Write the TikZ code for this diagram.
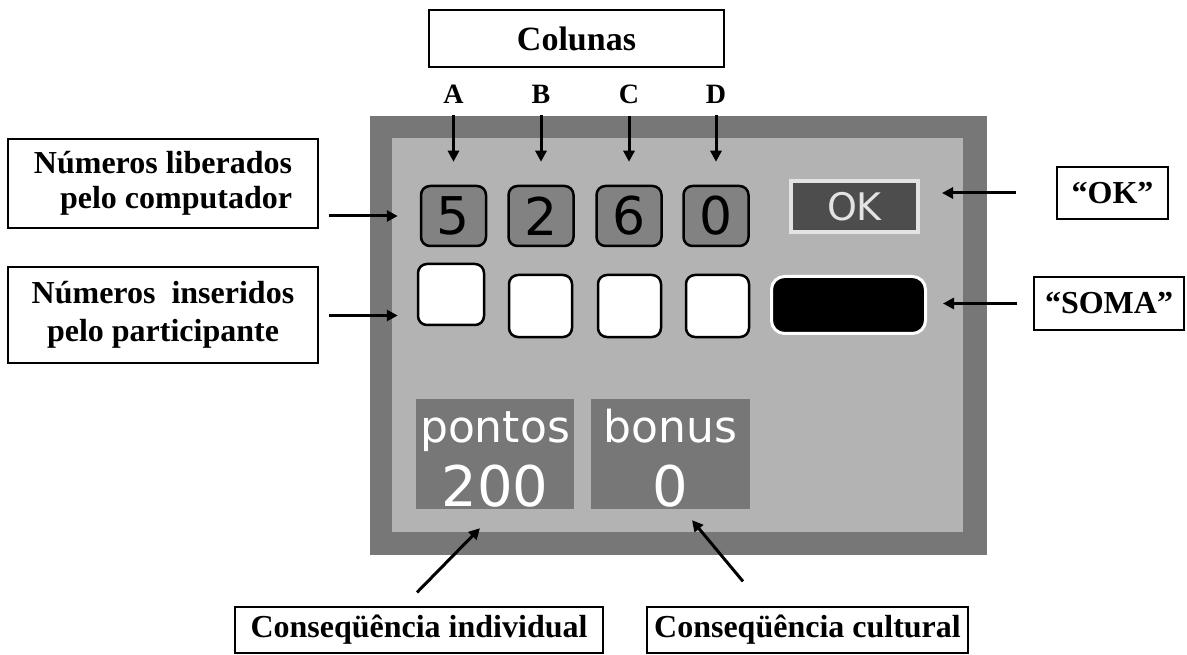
\documentclass[tikz,border=0pt]{standalone}
\usepackage{fontspec}
\setmainfont{Liberation Serif}
\newfontfamily\screenfont{DejaVu Sans}
\usepackage{tikz}
\usetikzlibrary{arrows.meta}
\definecolor{myframecolor}{HTML}{777777}
\definecolor{myscreencolor}{HTML}{B3B3B3}
\definecolor{mydigitcolor}{HTML}{828282}
\definecolor{myokcolor}{HTML}{4D4D4D}
\definecolor{myokedge}{HTML}{E3E3E3}

\begin{document}
\begin{tikzpicture}[x=1pt, y=-1pt,
  labelbox/.style={draw, line width=1.2pt, fill=white, rectangle, font=\bfseries\fontsize{32pt}{35pt}\selectfont},
  colname/.style={inner sep=0pt, font=\bfseries\fontsize{28pt}{28pt}\selectfont},
  digitbox/.style={draw, line width=2.5pt, fill=mydigitcolor, rounded corners=9pt, minimum width=65pt, minimum height=60pt, font=\screenfont\fontsize{52pt}{52pt}\selectfont},
  blankbox/.style={draw, line width=2.5pt, fill=white, rounded corners=9pt},
  scorebox/.style={fill=myframecolor, rectangle, minimum height=110pt},
  scoretext/.style={text=white, anchor=base, inner sep=0pt},
  arr/.style={-{Triangle[length=11pt,width=11pt]}, line width=3pt}]%
\useasboundingbox (0,0) rectangle (1187,655);%
% screen frame
\fill[myframecolor] (370,116) rectangle (987,555);%
\fill[myscreencolor] (392,138) rectangle (963,532);%
% numbers from the computer
\node[digitbox] (d5) at (453.5,216) {5};%
\node[digitbox] (d2) at (541,216) {2};%
\node[digitbox] (d6) at (629,216) {6};%
\node[digitbox] (d0) at (716,216) {0};%
% numbers typed by the participant
\node[blankbox, minimum width=66pt, minimum height=61pt] (w1) at (451,294.5) {};%
\node[blankbox, minimum width=63pt, minimum height=62pt] (w2) at (540.5,306) {};%
\node[blankbox, minimum width=63pt, minimum height=62pt] (w3) at (629.5,306) {};%
\node[blankbox, minimum width=63pt, minimum height=62pt] (w4) at (717.5,306) {};%
% buttons
\node[draw=myokedge, line width=4pt, fill=myokcolor, text=myokedge, minimum width=127pt, minimum height=51pt, font=\screenfont\fontsize{38pt}{38pt}\selectfont] (okb) at (854.5,206.5) {OK};%
\node[draw=white, line width=3pt, fill=black, rounded corners=13pt, minimum width=154pt, minimum height=57pt] (somb) at (848.5,305) {};%
% score panels
\node[scorebox, minimum width=158pt] (pts) at (495,454) {};%
\node[scorebox, minimum width=159pt] (bon) at (670.5,454) {};%
\node[scoretext, font=\screenfont\fontsize{44pt}{44pt}\selectfont] (ptsname) at (495,442) {pontos};%
\node[scoretext, font=\screenfont\fontsize{56pt}{56pt}\selectfont] (ptsval) at (495,506) {200};%
\node[scoretext, font=\screenfont\fontsize{44pt}{44pt}\selectfont] (bonname) at (670.5,442) {bonus};%
\node[scoretext, font=\screenfont\fontsize{56pt}{56pt}\selectfont] (bonval) at (670.5,506) {0};%
% labels
\node[labelbox, minimum width=295pt, minimum height=57pt, font=\bfseries\fontsize{34pt}{34pt}\selectfont] (col) at (576.5,38.5) {Colunas};%
\node[colname] (colA) at (453.5,94) {A};%
\node[colname] (colB) at (541,94) {B};%
\node[colname] (colC) at (629,94) {C};%
\node[colname] (colD) at (716,94) {D};%
\node[labelbox, align=right, minimum width=310pt, minimum height=89pt] (lib) at (163,183.5) {Números liberados\\pelo computador};%
\node[labelbox, align=center, minimum width=310pt, minimum height=96pt, font=\bfseries\fontsize{32pt}{38pt}\selectfont] (ins) at (163,315) {Números~ inseridos\\pelo participante};%
\node[labelbox, minimum width=111pt, minimum height=52pt] (okl) at (1112.5,193) {“OK”};%
\node[labelbox, minimum width=150pt, minimum height=53pt] (soml) at (1109,303.5) {“SOMA”};%
\node[labelbox, minimum width=368pt, minimum height=46pt] (ind) at (419,630) {Conseqüência individual};%
\node[labelbox, minimum width=321pt, minimum height=46pt] (cul) at (807.5,630) {Conseqüência cultural};%
% arrows
\draw[arr, shorten <=12pt, shorten >=23pt] (colA.south) -- (d5.north);%
\draw[arr, shorten <=12pt, shorten >=23pt] (colB.south) -- (d2.north);%
\draw[arr, shorten <=12pt, shorten >=23pt] (colC.south) -- (d6.north);%
\draw[arr, shorten <=12pt, shorten >=23pt] (colD.south) -- (d0.north);%
\draw[arr, shorten <=10pt, shorten >=22pt] (lib.east |- d5.west) -- (d5.west);%
\coordinate (insTip) at ([yshift=-21pt]w1.west);%
\draw[arr, shorten <=10pt, shorten >=19pt] (ins.east |- insTip) -- (insTip);%
\draw[arr, shorten <=40pt, shorten >=22pt] (okl.west) -- (okl.west -| okb.east);%
\draw[arr, shorten <=16pt, shorten >=16pt] (soml.west) -- (soml.west -| somb.east);%
\draw[arr] ([xshift=-2pt, yshift=14pt]ind.north) -- ([xshift=-15pt, yshift=-19pt]pts.south);%
\draw[arr] ([xshift=-64.5pt, yshift=25pt]cul.north) -- ([xshift=21.5pt, yshift=-11pt]bon.south);%
\end{tikzpicture}
\end{document}
